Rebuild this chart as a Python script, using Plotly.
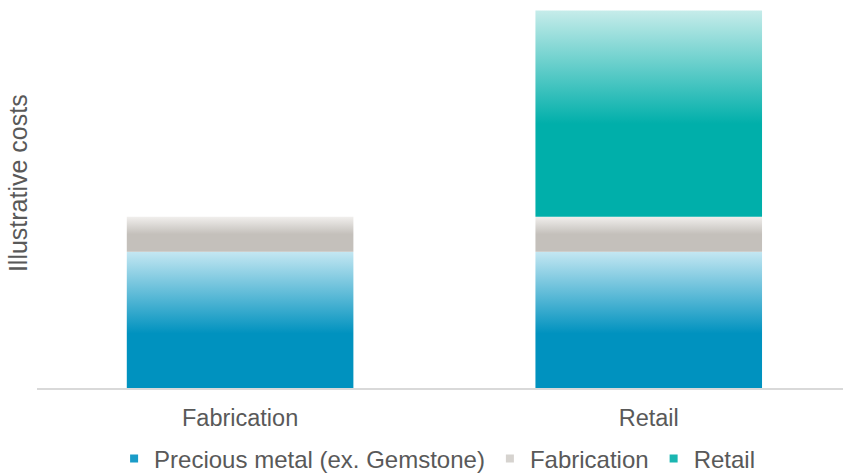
import plotly.graph_objects as go

# ---- data ----
categories = ["Fabrication", "Retail"]
series_names = ["Precious metal (ex. Gemstone)", "Fabrication", "Retail"]
precious_metal = [39, 39]
fabrication = [10, 10]
retail = [0, 59]
series_values = [precious_metal, fabrication, retail]

# ---- styles ----
dark_colors = ["#0092bf", "#c4c0bb", "#00afaa"]
light_colors = ["#c4e7f2", "#f1efed", "#c6ecea"]
solid_frac = [0.40, 0.50, 0.45]   # share of segment (from bottom) drawn in solid colour
legend_colors = ["#1a9cc8", "#d6d3cf", "#1ab6b1"]
bar_width = 0.5545
text_color = "#595959"
font_family = "Liberation Sans, Arial, sans-serif"

fig = go.Figure()

x_pos = list(range(len(categories)))
cum = [0.0] * len(categories)
for s, (name, vals) in enumerate(zip(series_names, series_values)):
    for i, v in enumerate(vals):
        if v <= 0:
            continue
        y0 = cum[i]
        y1 = y0 + v
        xl = x_pos[i] - bar_width / 2
        xr = x_pos[i] + bar_width / 2
        fig.add_trace(go.Scatter(
            x=[xl, xr, xr, xl, xl],
            y=[y0, y0, y1, y1, y0],
            mode="none",
            fill="toself",
            fillgradient=dict(
                type="vertical",
                colorscale=[[0, dark_colors[s]], [solid_frac[s], dark_colors[s]], [1, light_colors[s]]],
                start=y0,
                stop=y1,
            ),
            showlegend=False,
            hoverinfo="skip",
        ))
        cum[i] = y1

# legend-only entries
for s, name in enumerate(series_names):
    fig.add_trace(go.Scatter(
        x=[None], y=[None], mode="markers", name=name,
        marker=dict(symbol="square", size=8, color=legend_colors[s]),
    ))

fig.update_layout(
    width=843, height=474,
    margin=dict(l=37, r=0, t=0, b=86, autoexpand=False),
    paper_bgcolor="white", plot_bgcolor="white",
    font=dict(family=font_family, size=23.5, color=text_color),
    showlegend=True,
    legend=dict(
        orientation="h", xref="container", yref="container",
        x=0.5185, xanchor="center", y=0.0316, yanchor="middle",
        font=dict(size=24, color=text_color), itemwidth=30,
        tracegroupgap=0,
    ),
    xaxis=dict(
        range=[-0.497, 1.4754], automargin=False,
        tickmode="array", tickvals=x_pos, ticktext=categories,
        showline=True, linecolor="#d9d9d9", linewidth=2,
        showgrid=False, zeroline=False, ticks="", ticklabelstandoff=8,
        tickfont=dict(size=23.5, color=text_color),
    ),
    yaxis=dict(
        range=[0, 111.0], automargin=False,
        showticklabels=False, showgrid=False, zeroline=False, showline=False, ticks="",
    ),
    annotations=[dict(
        text="Illustrative costs", textangle=-90,
        xref="paper", yref="paper", x=-0.0236, y=0.528,
        xanchor="center", yanchor="middle", showarrow=False,
        font=dict(size=25, color=text_color),
    )],
)

fig.write_html(
    "out.html",
    config={"displayModeBar": False},
    post_script="document.body.style.margin='0';document.body.style.overflow='hidden';",
)
